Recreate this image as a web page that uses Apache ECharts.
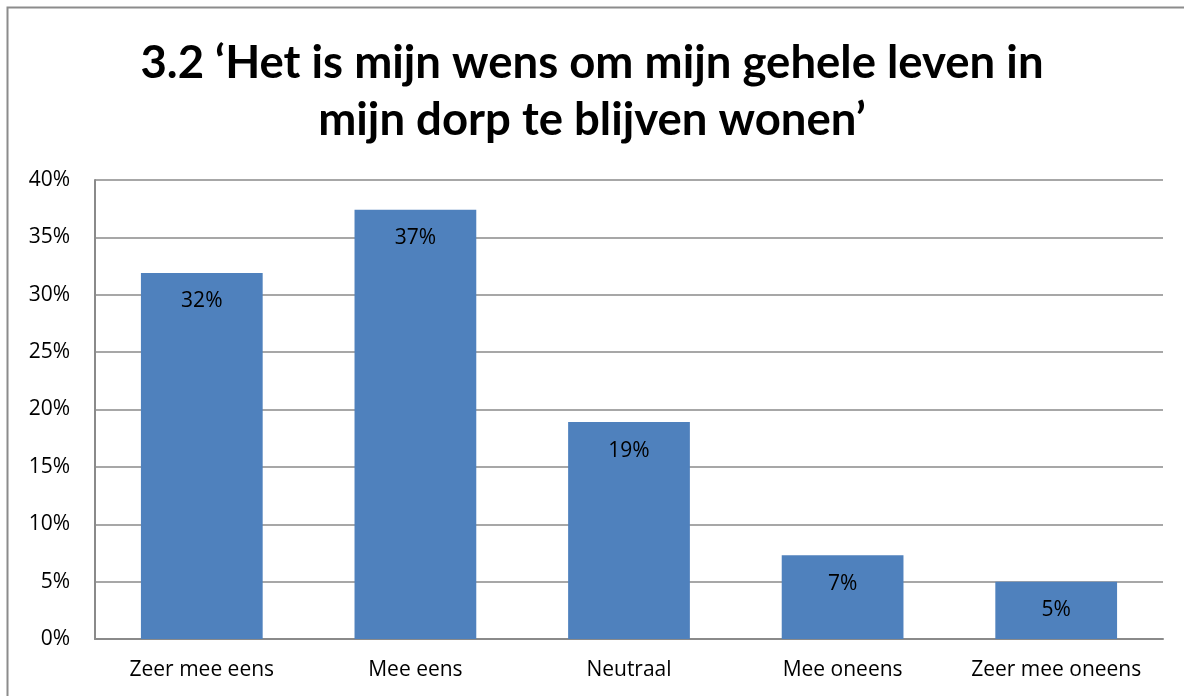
<!DOCTYPE html>
<html>
<head>
<meta charset="utf-8">
<script src="https://cdn.jsdelivr.net/npm/echarts@6/dist/echarts.min.js"></script>
<style>
html,body{margin:0;padding:0;background:#fff;}
#chart{width:1184px;height:696px;}
</style>
</head>
<body>
<div id="chart"></div>
<script>
const titleLines = ["3.2 \u2018Het is mijn wens om mijn gehele leven in", "mijn dorp te blijven wonen\u2019"];
const categories = ["Zeer mee eens", "Mee eens", "Neutraal", "Mee oneens", "Zeer mee oneens"];
const values = [31.9, 37.4, 18.9, 7.3, 5.0];
const yTicks = { min: 0, max: 40, interval: 5 };

const chart = echarts.init(document.getElementById('chart'), null, { renderer: 'canvas' });
const titleFont = 'Lato, "Open Sans", "Liberation Sans", sans-serif';
const font = '"Open Sans", Lato, "Liberation Sans", sans-serif';
chart.setOption({
  animation: false,
  title: {
    text: titleLines.join('\n'),
    left: 'center',
    top: 30,
    textStyle: { fontFamily: titleFont, fontWeight: 'bold', fontSize: 45.5, lineHeight: 57, color: '#000' }
  },
  graphic: [{
    type: 'rect',
    shape: { x: 7.5, y: 7.5, width: 1200, height: 720 },
    style: { fill: 'none', stroke: '#8c8c8c', lineWidth: 2 },
    silent: true
  }],
  grid: { left: 95, right: 21, top: 180, bottom: 57 },
  xAxis: {
    type: 'category',
    data: categories,
    axisLine: { show: true, lineStyle: { color: '#8a8a8a', width: 2 } },
    axisTick: { show: false },
    axisLabel: { interval: 0, hideOverlap: false, fontFamily: font, fontSize: 21, color: '#000', margin: 21 }
  },
  yAxis: {
    type: 'value',
    min: yTicks.min, max: yTicks.max, interval: yTicks.interval,
    axisLine: { show: true, lineStyle: { color: '#8a8a8a', width: 2 } },
    axisTick: { show: false },
    splitLine: { show: true, lineStyle: { color: '#8a8a8a', width: 1.5 } },
    axisLabel: { fontFamily: font, fontSize: 21, color: '#000', margin: 25, formatter: v => v + '%' }
  },
  series: [{
    type: 'bar',
    data: values,
    barCategoryGap: '43%',
    itemStyle: { color: '#4F81BD' },
    label: {
      show: true,
      position: 'insideTop',
      distance: 18,
      fontFamily: font,
      fontSize: 21,
      color: '#000',
      formatter: p => Math.round(p.value) + '%'
    }
  }]
});
</script>
</body>
</html>
